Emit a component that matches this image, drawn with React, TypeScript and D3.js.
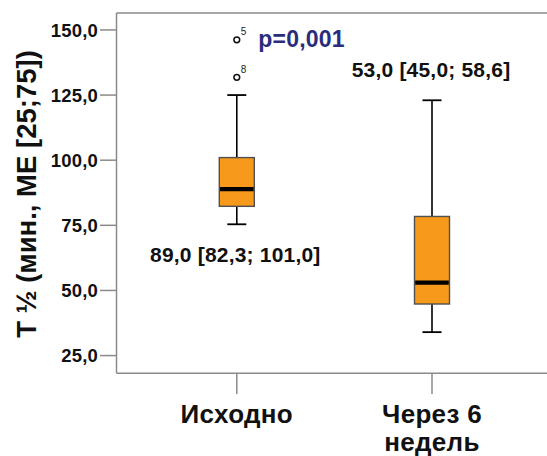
import React from "react";
import * as d3 from "d3";

const categories = ["Исходно", "Через 6 недель"];
const categoryLines = [["Исходно"], ["Через 6", "недель"]];
const whiskerLow = [75.4, 34.0];
const q1 = [82.3, 44.8];
const median = [88.9, 53.0];
const q3 = [101.0, 78.4];
const whiskerHigh = [125.0, 123.0];
const outlierValues = [146.2, 131.8];
const outlierCategory = [0, 0];
const outlierLabels = ["5", "8"];
const yTicks = [25, 50, 75, 100, 125, 150];
const summaryLabels = ["89,0 [82,3; 101,0]", "53,0 [45,0; 58,6]"];
const pLabel = "p=0,001";
const yTitle = "T ½ (мин., МЕ [25;75])";

const W = 547;
const H = 456;
const FONT = "'Liberation Sans', Arial, Helvetica, sans-serif";

const locale = d3.formatLocale({ decimal: ",", thousands: " ", grouping: [3], currency: ["", ""] });
const fmt = locale.format(".1f");

export default function App() {
  const left = 116.5;
  const top = 13;
  const bottom = 373.3;
  const right = 560;
  const y = d3.scaleLinear().domain([18.2, 156.5]).range([bottom, top]);
  const x = d3.scalePoint<string>().domain(categories).range([236.8, 432]);
  const boxW = 35;
  const capW = 19;
  const axisColor = "#8a8a8a";

  return (
    <svg width={W} height={H} style={{ position: "fixed", left: 0, top: 0, background: "#fff" }} fontFamily={FONT}>
      <rect x={0} y={0} width={W} height={H} fill="#fff" />
      {/* frame */}
      <line x1={left} x2={right} y1={top} y2={top} stroke={axisColor} strokeWidth={1.5} />
      <line x1={left} x2={right} y1={bottom} y2={bottom} stroke={axisColor} strokeWidth={1.5} />
      <line x1={left} x2={left} y1={top} y2={bottom} stroke={axisColor} strokeWidth={1.5} />
      {/* y ticks */}
      {yTicks.map((t) => (
        <g key={t}>
          <line x1={left - 16.5} x2={left} y1={y(t)} y2={y(t)} stroke={axisColor} strokeWidth={1.5} />
          <text x={98} y={y(t)} dy="0.36em" textAnchor="end" fontSize={18.5} fontWeight="bold" letterSpacing={0.2} fill="#111">
            {fmt(t)}
          </text>
        </g>
      ))}
      {/* x ticks and labels */}
      {categories.map((c, i) => (
        <g key={c}>
          <line x1={x(c)!} x2={x(c)!} y1={bottom} y2={394} stroke={axisColor} strokeWidth={1.5} />
          {categoryLines[i].map((ln, j) => (
            <text key={j} x={x(c)!} y={423 + j * 28} textAnchor="middle" fontSize={26} fontWeight="bold" letterSpacing={0.3} fill="#111">
              {ln}
            </text>
          ))}
        </g>
      ))}
      {/* y title */}
      <text transform={`translate(36,194) rotate(-90)`} textAnchor="middle" fontSize={27.5} fontWeight="bold" fill="#111">
        {yTitle}
      </text>
      {/* boxes */}
      {categories.map((c, i) => {
        const cx = x(c)!;
        return (
          <g key={c}>
            <line x1={cx} x2={cx} y1={y(whiskerHigh[i])} y2={y(q3[i])} stroke="#000" strokeWidth={1.6} />
            <line x1={cx} x2={cx} y1={y(q1[i])} y2={y(whiskerLow[i])} stroke="#000" strokeWidth={1.6} />
            <line x1={cx - capW / 2} x2={cx + capW / 2} y1={y(whiskerHigh[i])} y2={y(whiskerHigh[i])} stroke="#000" strokeWidth={1.8} />
            <line x1={cx - capW / 2} x2={cx + capW / 2} y1={y(whiskerLow[i])} y2={y(whiskerLow[i])} stroke="#000" strokeWidth={1.8} />
            <rect x={cx - boxW / 2} y={y(q3[i])} width={boxW} height={y(q1[i]) - y(q3[i])} fill="#F7991B" stroke="#505050" strokeWidth={1.4} />
            <line x1={cx - boxW / 2 + 0.7} x2={cx + boxW / 2 - 0.7} y1={y(median[i])} y2={y(median[i])} stroke="#000" strokeWidth={4.2} />
          </g>
        );
      })}
      {/* outliers */}
      {outlierValues.map((v, i) => {
        const cx = x(categories[outlierCategory[i]])!;
        return (
          <g key={i}>
            <circle cx={cx} cy={y(v)} r={2.9} fill="#fff" stroke="#111" strokeWidth={1.5} />
            <text x={cx + 4} y={y(v) - 4.5} fontSize={10} fill="#222">
              {outlierLabels[i]}
            </text>
          </g>
        );
      })}
      {/* annotations */}
      <text x={258.3} y={47} fontSize={23} fontWeight="bold" letterSpacing={0.2} fill="#2B2D7C">
        {pLabel}
      </text>
      <text x={351.7} y={77.3} fontSize={21} fontWeight="bold" letterSpacing={0.2} fill="#111">
        {summaryLabels[1]}
      </text>
      <text x={150} y={261.7} fontSize={21} fontWeight="bold" letterSpacing={0.2} fill="#111">
        {summaryLabels[0]}
      </text>
    </svg>
  );
}
